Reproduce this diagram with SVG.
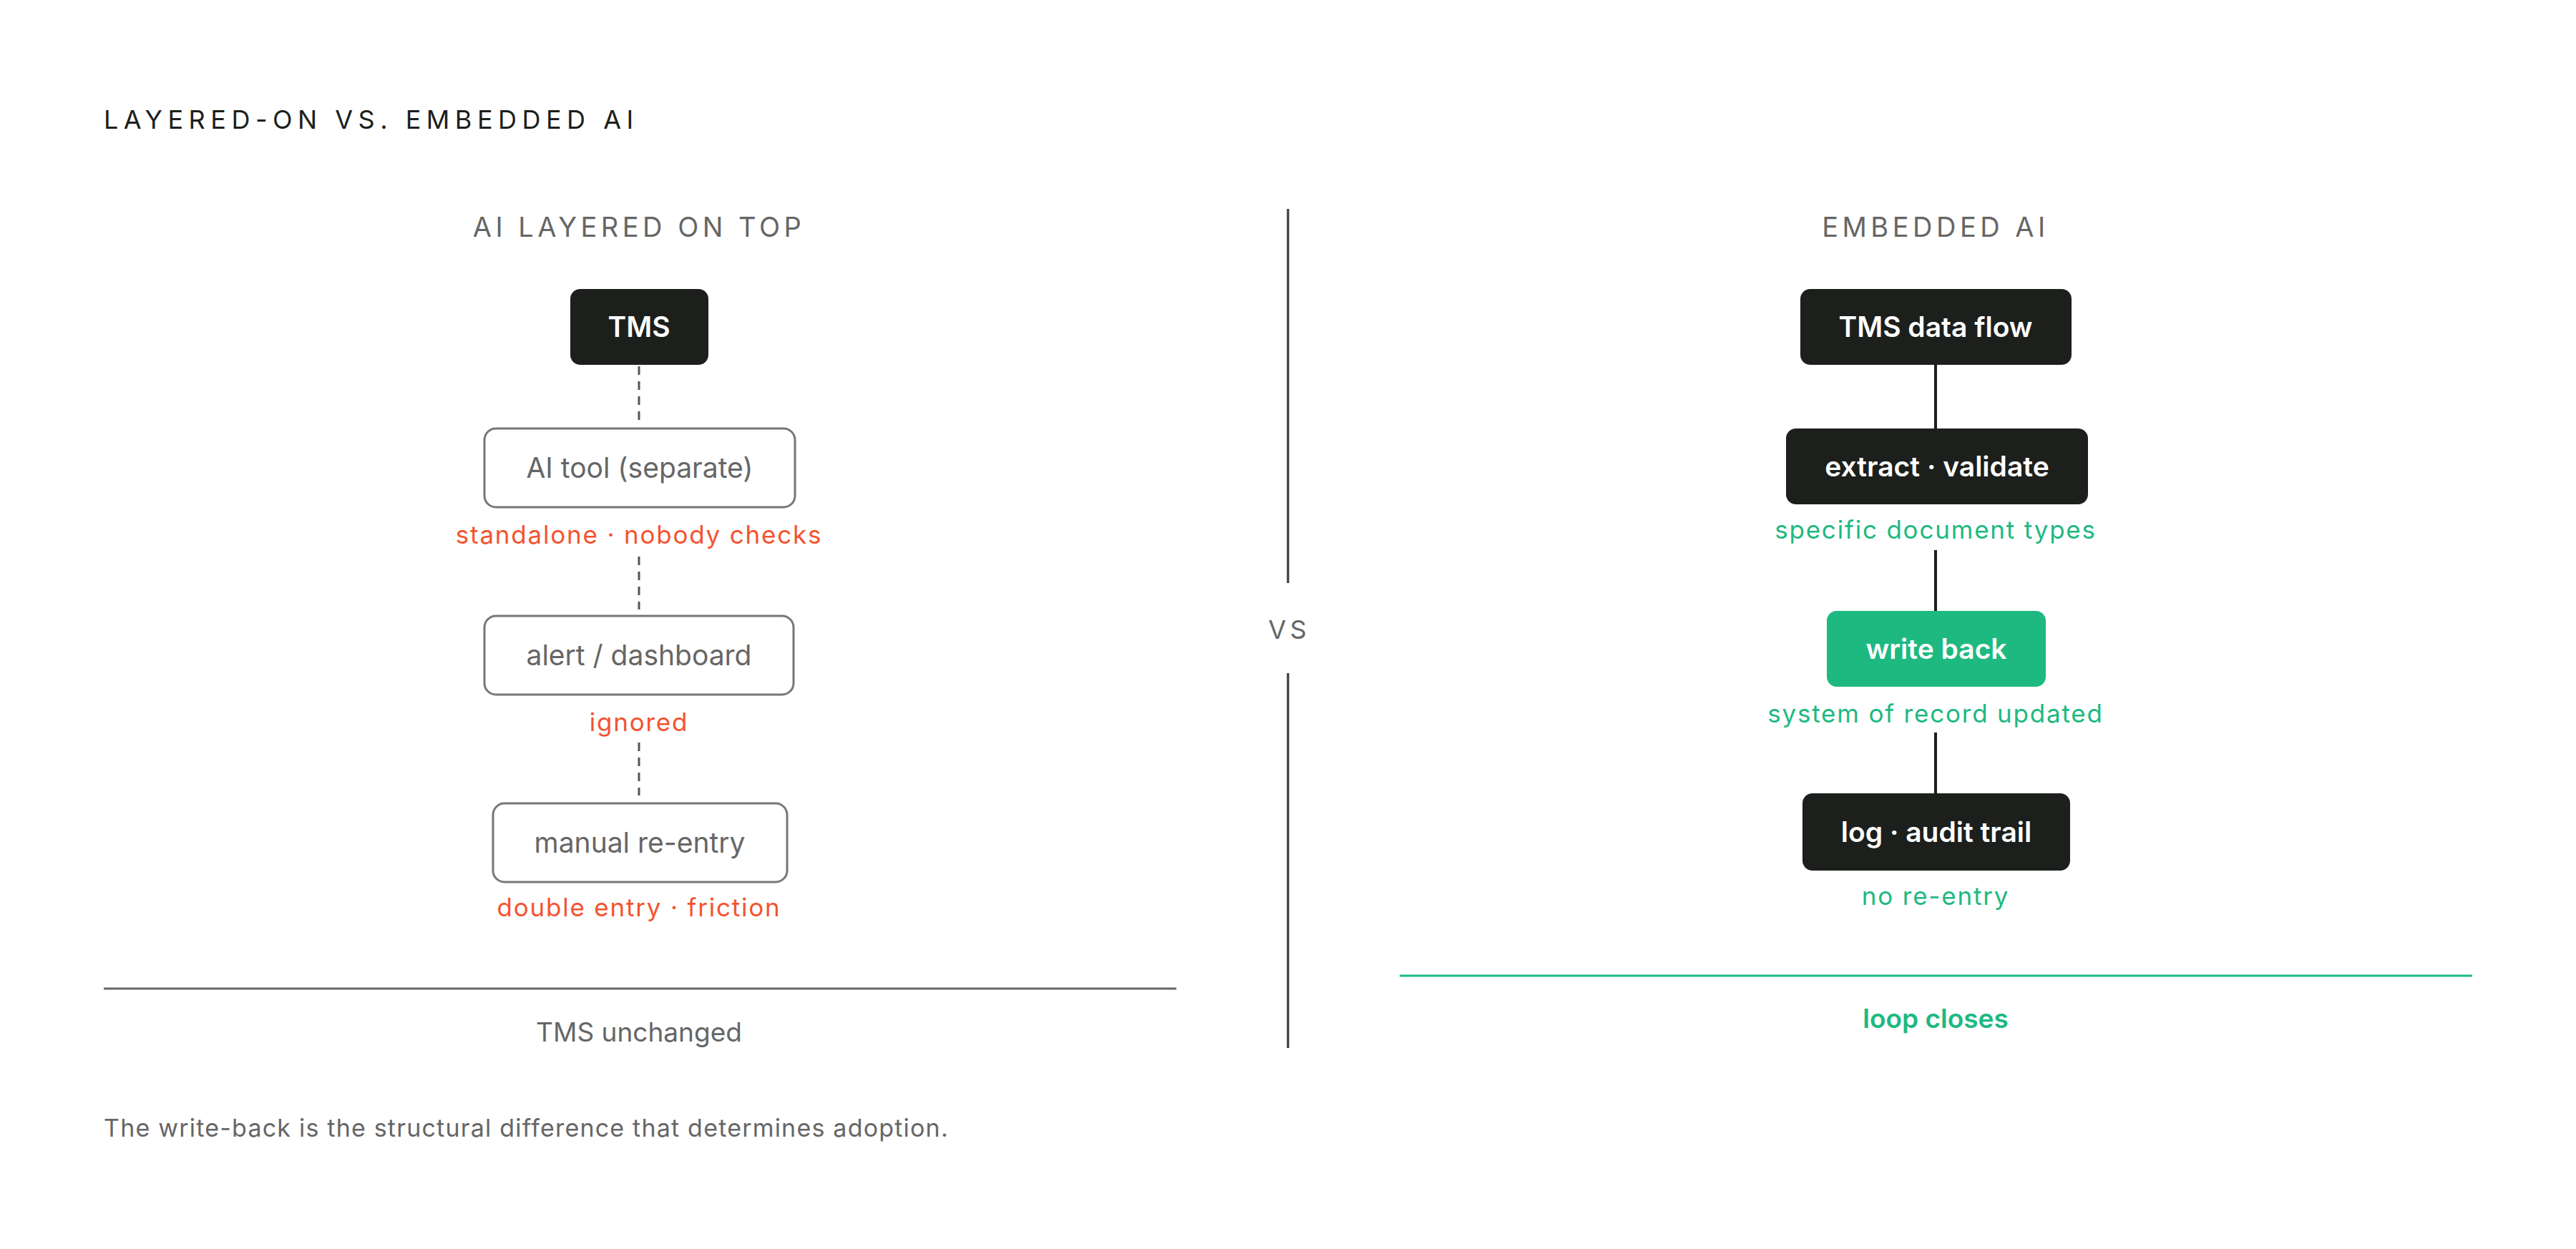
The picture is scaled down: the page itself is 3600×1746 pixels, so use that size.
<svg xmlns="http://www.w3.org/2000/svg" width="3600" height="1746" viewBox="0 0 3600 1746">
<style>
text{font-family:Inter,"Noto Sans","Liberation Sans",sans-serif}
.title{font-size:36px;letter-spacing:7.5px;fill:#1c1f1c}
.head{font-size:38px;letter-spacing:5.5px;fill:#666;text-anchor:middle}
.dark rect{fill:#1c1f1c;rx:14}
.dark text,.green text{fill:#fff;font-size:39px;font-weight:600;text-anchor:middle}
.green rect{fill:#1eb980;rx:14}
.light rect{fill:#fff;stroke:#777;stroke-width:3;rx:16}
.light text{fill:#666;font-size:39px;text-anchor:middle}
.red{fill:#f4532f;font-size:35px;text-anchor:middle;letter-spacing:1.8px}
.grn{fill:#1eb980;font-size:35px;text-anchor:middle;letter-spacing:1.8px}
.dash{stroke:#555;stroke-width:3;stroke-dasharray:12 9}
.solid{stroke:#1c1f1c;stroke-width:4}
.gray{fill:#666;font-size:37px}
</style>
<rect width="3600" height="1746" fill="#fff"/>
<text class="title" x="145" y="180">LAYERED-ON VS. EMBEDDED AI</text>
<text class="head" x="893" y="331">AI LAYERED ON TOP</text>
<text class="head" x="2705" y="331">EMBEDDED AI</text>
<g id="connectors">
<line class="dash" x1="893" y1="512" x2="893" y2="592"/>
<line class="dash" x1="893" y1="778" x2="893" y2="852"/>
<line class="dash" x1="893" y1="1038" x2="893" y2="1112"/>
<line class="solid" x1="2705" y1="510" x2="2705" y2="599"/>
<line class="solid" x1="2705" y1="769" x2="2705" y2="854"/>
<line class="solid" x1="2705" y1="1024" x2="2705" y2="1109"/>
</g>
<g id="tms" class="dark"><rect x="797" y="404" width="193" height="106"/><text x="893" y="471">TMS</text></g>
<g id="ai-tool" class="light"><rect x="677" y="599" width="434" height="110"/><text x="894" y="668">AI tool (separate)</text></g>
<text class="red" x="893" y="760">standalone · nobody checks</text>
<g id="alert" class="light"><rect x="677" y="861" width="432" height="110"/><text x="893" y="930">alert / dashboard</text></g>
<text class="red" x="893" y="1022">ignored</text>
<g id="manual" class="light"><rect x="689" y="1123" width="411" height="110"/><text x="894" y="1192">manual re-entry</text></g>
<text class="red" x="893" y="1281">double entry · friction</text>
<line x1="145" y1="1382" x2="1644" y2="1382" stroke="#666" stroke-width="3"/>
<text class="gray" x="893" y="1456" text-anchor="middle">TMS unchanged</text>
<text class="gray" x="145" y="1589" style="font-size:34px;letter-spacing:1.2px">The write-back is the structural difference that determines adoption.</text>
<line x1="1800" y1="292" x2="1800" y2="815" stroke="#333" stroke-width="3"/>
<line x1="1800" y1="941" x2="1800" y2="1465" stroke="#333" stroke-width="3"/>
<text class="head" x="1802" y="893" style="font-size:36px">VS</text>
<g id="tms-flow" class="dark"><rect x="2516" y="404" width="379" height="106"/><text x="2705" y="471">TMS data flow</text></g>
<g id="extract" class="dark"><rect x="2496" y="599" width="422" height="106"/><text x="2707" y="666">extract · validate</text></g>
<text class="grn" x="2705" y="753">specific document types</text>
<g id="write-back" class="green"><rect x="2553" y="854" width="306" height="106"/><text x="2706" y="921">write back</text></g>
<text class="grn" x="2705" y="1010">system of record updated</text>
<g id="log" class="dark"><rect x="2519" y="1109" width="374" height="108"/><text x="2706" y="1177">log · audit trail</text></g>
<text class="grn" x="2705" y="1265">no re-entry</text>
<line x1="1956" y1="1364" x2="3455" y2="1364" stroke="#1eb980" stroke-width="3"/>
<text class="grn" x="2705" y="1437" style="font-weight:600;font-size:37px;letter-spacing:0">loop closes</text>
</svg>
